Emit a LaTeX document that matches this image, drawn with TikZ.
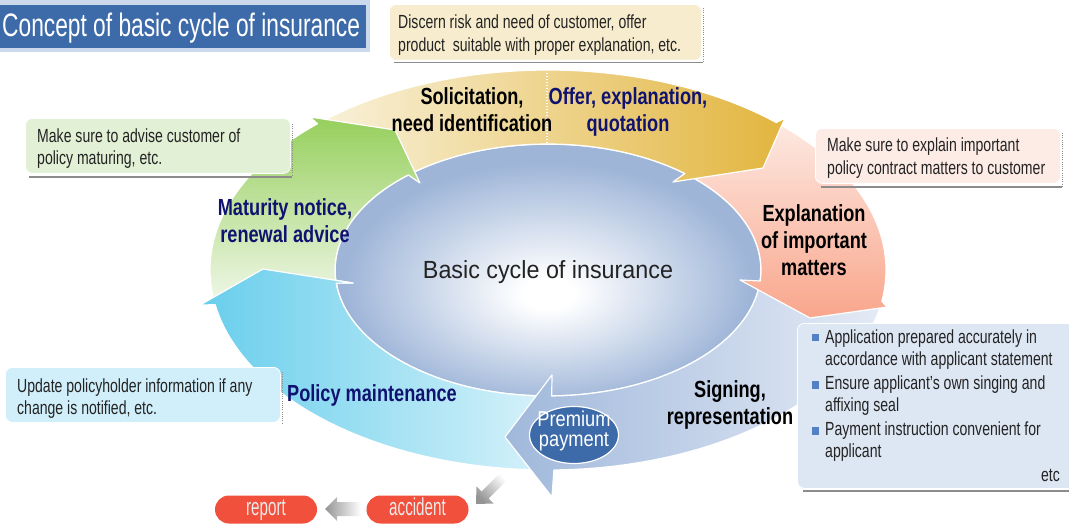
\documentclass[tikz,border=0pt]{standalone}
\usetikzlibrary{shapes.geometric}
\usepackage{fontspec}
\setmainfont{Liberation Sans}[FakeStretch=0.74]
\newfontfamily\titlefont{Liberation Sans}[FakeStretch=0.70]
\newfontfamily\labfont{Liberation Sans}[FakeStretch=0.78]
\newfontfamily\cenfont{Liberation Sans}[FakeStretch=0.94]
\newfontfamily\premfont{Liberation Sans}[FakeStretch=0.85]
\newfontfamily\pillfont{Liberation Sans}[FakeStretch=0.62]
\definecolor{cyanL}{RGB}{104,206,236}
\definecolor{cyanR}{RGB}{224,245,251}
\definecolor{steelL}{RGB}{160,184,219}
\definecolor{steelR}{RGB}{229,235,246}
\definecolor{pinkT}{RGB}{253,234,227}
\definecolor{pinkB}{RGB}{249,166,140}
\definecolor{yelL}{RGB}{249,242,220}
\definecolor{yelR}{RGB}{226,181,62}
\definecolor{greenT}{RGB}{150,207,92}
\definecolor{greenB}{RGB}{237,246,228}
\definecolor{ellO}{RGB}{158,181,216}
\definecolor{tblue}{RGB}{61,106,168}
\definecolor{tframe}{RGB}{204,217,237}
\definecolor{navy}{RGB}{16,18,112}
\definecolor{pillred}{RGB}{241,80,60}
\definecolor{boxY}{RGB}{247,237,206}
\definecolor{boxG}{RGB}{226,241,213}
\definecolor{boxP}{RGB}{253,236,230}
\definecolor{boxC}{RGB}{209,239,250}
\definecolor{boxB}{RGB}{221,231,243}
\definecolor{bulletc}{RGB}{84,128,196}
\definecolor{txt}{RGB}{35,35,35}
\pgfdeclareradialshading{ellshade}{\pgfpoint{0bp}{-5bp}}{color(0bp)=(white); color(3bp)=(white); color(24bp)=(ellO); color(50bp)=(ellO)}
\newcommand\cyanpath{plot[domain=275:190, samples=50, variable=\t] ({548+338*cos(\t)},{270-200*sin(\t)}) -- (200,305) -- (263,269) -- (353,283) -- plot[domain=186:275, samples=50, variable=\t] ({548+213*cos(\t)},{270-126*sin(\t)}) -- cycle}
\begin{document}
\begin{tikzpicture}[x=1pt,y=-1pt,
  arrowedge/.style={draw=white, line width=1.2pt, line join=round},
  callout/.style={draw=white, line width=0.8pt, rounded corners=7pt, inner sep=0pt, anchor=north west},
  shline/.style={draw=black!45, line width=1.3pt},
  shdot/.style={draw=black!45, line width=1pt, dash pattern=on 1pt off 1.2pt},
  body/.style={font=\fontsize{19}{23}\selectfont, text=txt, inner sep=0pt, anchor=base west},
  lab/.style={font=\labfont\bfseries\fontsize{23.3}{27}\selectfont, inner sep=0pt, anchor=base},
  pill/.style={fill=pillred, rounded corners=14pt, minimum width=102pt, minimum height=28pt, inner sep=0pt},
  pilltext/.style={font=\pillfont\fontsize{24.5}{28}\selectfont, text=white!92!black, inner sep=0pt, anchor=base},
  bulletsq/.style={fill=bulletc, minimum size=7.7pt, inner sep=0pt},
  premtext/.style={font=\premfont\fontsize{21.5}{24}\selectfont, text=white, inner sep=0pt, anchor=base}]
\useasboundingbox (0,0) rectangle (1069,524);
\fill[white] (0,0) rectangle (1069,524);

% central ellipse
\shadedraw[shading=ellshade, draw=white, line width=1.5pt] (548,270) ellipse [x radius=213, y radius=126];

% cyan (policy maintenance)
\shadedraw[arrowedge, left color=cyanL, right color=cyanR] \cyanpath;

% steel (signing)
\shadedraw[arrowedge, left color=steelL, right color=steelR]
  plot[domain=-4:-89, samples=50, variable=\t] ({548+338*cos(\t)},{270-200*sin(\t)})
  -- (552,497) -- (505,437) -- (552,375)
  -- plot[domain=-89:-4, samples=50, variable=\t] ({548+213*cos(\t)},{270-126*sin(\t)}) -- cycle;

% pink (explanation)
\shadedraw[arrowedge, top color=pinkT, bottom color=pinkB]
  plot[domain=49:-9, samples=40, variable=\t] ({548+338*cos(\t)},{270-200*sin(\t)})
  -- (887,307) -- (810,318) -- (740,280)
  -- plot[domain=-5:49, samples=40, variable=\t] ({548+213*cos(\t)},{270-126*sin(\t)}) -- cycle;

% yellow (solicitation / offer)
\shadedraw[arrowedge, left color=yelL, right color=yelR]
  plot[domain=134:47.5, samples=50, variable=\t] ({548+338*cos(\t)},{270-200*sin(\t)})
  -- (785,118) -- (763,168) -- (673,182)
  -- plot[domain=50:132, samples=50, variable=\t] ({548+213*cos(\t)},{270-126*sin(\t)}) -- cycle;
\draw[white, line width=1.5pt, dash pattern=on 1.5pt off 1.5pt] (547,73) -- (547,145);

% green (maturity)
\shadedraw[arrowedge, top color=greenT, bottom color=greenB]
  plot[domain=188:133, samples=40, variable=\t] ({548+338*cos(\t)},{270-200*sin(\t)})
  -- (310,117) -- (395,130) -- (420,183)
  -- plot[domain=131:188, samples=40, variable=\t] ({548+213*cos(\t)},{270-126*sin(\t)}) -- cycle;

% cyan head over green tail
\begin{scope}
  \clip (0,200) rectangle (430,524);
  \shadedraw[arrowedge, left color=cyanL, right color=cyanR] \cyanpath;
\end{scope}

% premium payment
\node[draw=white, line width=1.2pt, fill=tblue, ellipse, minimum width=89pt, minimum height=57pt, inner sep=0pt] (prem) at (574,435) {};
\node[premtext] (prem1) at (574,426.7) {Premium};
\node[premtext] (prem2) at (574,446.5) {payment};

% title
\fill[tframe] (0,0) rectangle (370,52);
\node[fill=tblue, anchor=north west, minimum width=366pt, minimum height=43pt, inner sep=0pt] (titlebox) at (0,5) {};
\node[font=\titlefont\fontsize{32.5}{36}\selectfont, text=white, inner sep=0pt, anchor=base west] (title) at (2,36.5) {Concept of basic cycle of insurance};

% callout boxes: shadows
\draw[shline] (394,62.5) -- (703,62.5);
\draw[shdot] (703,8) -- (703,61);
\draw[shline] (29,177) -- (292,177);
\draw[shdot] (292,124) -- (292,176);
\draw[shline] (821,187) -- (1062,187);
\draw[shdot] (1062,133) -- (1062,186);
\draw[shdot] (282,372) -- (282,424);
\draw[shline] (803,491) -- (1069,491);

% callout boxes
\node[callout, fill=boxY, minimum width=312pt, minimum height=56pt] (boxtop) at (389,4) {};
\node[callout, fill=boxG, minimum width=265pt, minimum height=55pt] (boxgreen) at (25,118) {};
\node[callout, fill=boxP, minimum width=245pt, minimum height=55pt] (boxpink) at (815,128) {};
\node[callout, fill=boxC, minimum width=275pt, minimum height=55pt] (boxcyan) at (5,367) {};
\node[callout, fill=boxB, minimum width=280pt, minimum height=165pt] (boxblue) at (797,323) {};

% callout texts
\node[body] (t1) at (398,29) {Discern risk and need of customer, offer};
\node[body] (t2) at (398,52) {product\ \ suitable with proper explanation, etc.};
\node[body] (g1) at (37,143) {Make sure to advise customer of};
\node[body] (g2) at (37,165) {policy maturing, etc.};
\node[body] (p1) at (827,152) {Make sure to explain important};
\node[body] (p2) at (827,175) {policy contract matters to customer};
\node[body] (c1) at (17,392) {Update policyholder information if any};
\node[body] (c2) at (17,414) {change is notified, etc.};
\node[bulletsq] (s1) at (815.5,337.5) {};
\node[bulletsq] (s2) at (815.5,385) {};
\node[bulletsq] (s3) at (815.5,430.8) {};
\node[body] (b1) at (825,343.3) {Application prepared accurately in};
\node[body] (b2) at (825,365.5) {accordance with applicant statement};
\node[body] (b3) at (825,389) {Ensure applicant’s own singing and};
\node[body] (b4) at (825,411.5) {affixing seal};
\node[body] (b5) at (825,435.5) {Payment instruction convenient for};
\node[body] (b6) at (825,457.5) {applicant};
\node[body, anchor=base east] (b7) at (1060,481.5) {etc};

% cycle labels
\node[lab] (l1a) at (472,105) {Solicitation,};
\node[lab] (l1b) at (472,131.7) {need identification};
\node[lab, text=navy] (l2a) at (628,105) {Offer, explanation,};
\node[lab, text=navy] (l2b) at (628,131.7) {quotation};
\node[lab] (l3a) at (814,222) {Explanation};
\node[lab] (l3b) at (814,248.5) {of important};
\node[lab] (l3c) at (814,275) {matters};
\node[lab, text=navy] (l4a) at (285,215.7) {Maturity notice,};
\node[lab, text=navy] (l4b) at (285,242.7) {renewal advice};
\node[lab, text=navy] (l5) at (372,401.7) {Policy maintenance};
\node[lab] (l6a) at (730,397.3) {Signing,};
\node[lab] (l6b) at (730,424) {representation};
\node[font=\cenfont\fontsize{24.8}{28}\selectfont, text=txt, inner sep=0pt, anchor=base] (center) at (548,278.3) {Basic cycle of insurance};

% bottom: accident -> report
\node[pill] (report) at (266,509.5) {};
\node[pill] (accident) at (417.5,509.5) {};
\node[pilltext] (reporttxt) at (266,515) {report};
\node[pilltext] (accidenttxt) at (417.5,515) {accident};
\shade[left color=black!42, right color=white]
  (325,509) -- (337,497) -- (337,502) -- (361,502) -- (361,516) -- (337,516) -- (337,521) -- cycle;
\shade[top color=white, bottom color=black!42, shading angle=-45]
  (476,504) -- (476.5,486.5) -- (481.5,491.5) -- (500.8,472.2) -- (507.8,479.2) -- (488.5,498.5) -- (493.5,503.5) -- cycle;
\end{tikzpicture}
\end{document}
